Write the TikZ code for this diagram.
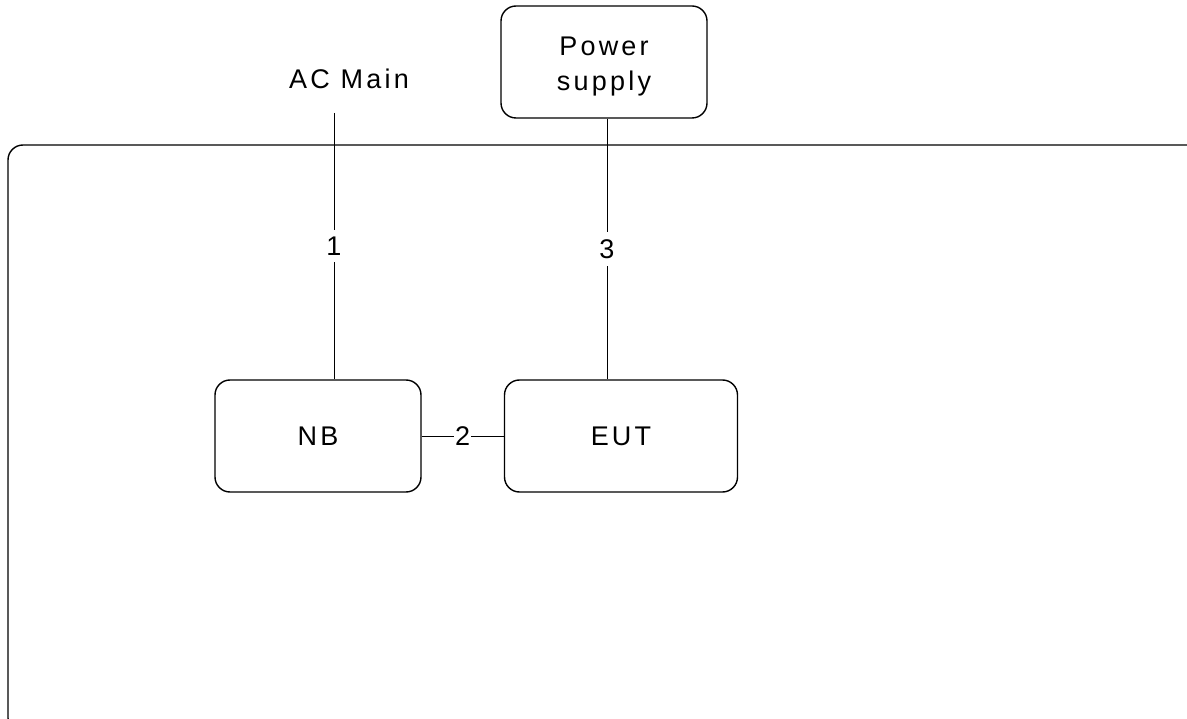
\documentclass[tikz,border=0pt]{standalone}
\usepackage{fontspec}
\setmainfont{Liberation Sans}[LetterSpace=12]
\begin{document}
\begin{tikzpicture}[x=1pt,y=-1pt,
  box/.style={draw,line width=1.4pt,rounded corners=15pt,inner sep=0pt},
  conn/.style={line width=0.8pt},
  lbl/.style={fill=white,inner xsep=1pt,inner ysep=7pt,font=\fontsize{27}{31}\selectfont},
  txt/.style={font=\fontsize{27}{31}\selectfont,align=center}]
\useasboundingbox (0,0) rectangle (1187,719);
\clip (0,0) rectangle (1187,719);
\draw[line width=1.4pt,rounded corners=15pt] (8,145) rectangle (1202,733);
\node[box,font=\fontsize{27}{34}\selectfont,minimum width=206pt,minimum height=112pt] (ps) at (604,62)
  {\raisebox{-4pt}[\height][\depth]{\begin{tabular}{@{}c@{}}Power\\[1pt]supply\end{tabular}}};
\node[box,txt,minimum width=206pt,minimum height=112pt] (nb) at (318,436) {NB};
\node[box,txt,minimum width=233pt,minimum height=112pt] (eut) at (621,436) {EUT};
\node[txt] (ac) at (349,79) {AC Main};
\coordinate (actop) at (334,113);
\draw[conn] (actop) -- node[lbl,pos=0.5] {1} (actop |- nb.north);
\draw[conn] (ps.south -| 607,0) -- node[lbl,pos=0.5] {3} (607,0 |- eut.north);
\draw[conn] (nb.east) -- node[lbl,pos=0.5,inner ysep=1pt] {2} (eut.west);
\end{tikzpicture}
\end{document}
